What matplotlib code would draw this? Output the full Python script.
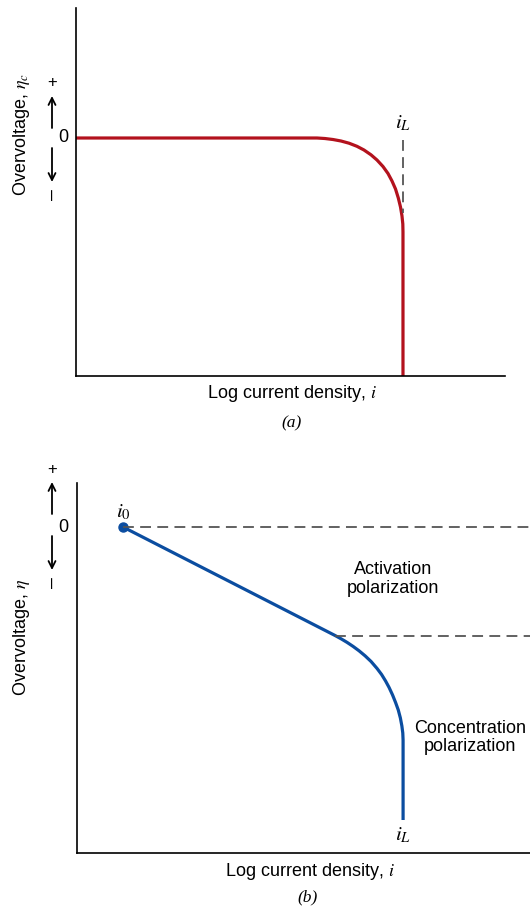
import matplotlib
matplotlib.use("Agg")
import matplotlib.pyplot as plt

plt.rcParams['mathtext.fontset'] = 'stix'
SANS = ['Liberation Sans', 'DejaVu Sans']
SERIF = ['Liberation Serif', 'DejaVu Serif']

# panel (a): concentration polarization only (x = log i, y = overvoltage)
conc_x = [0.0, 5.618, 5.804, 5.991, 6.177, 6.364, 6.550, 6.713, 6.876, 7.016, 7.156,
          7.273, 7.366, 7.448, 7.513, 7.564, 7.599, 7.618, 7.622, 7.622]
conc_y = [0.0, 0.0, -0.013, -0.038, -0.075, -0.13, -0.208, -0.3, -0.42, -0.55, -0.713,
          -0.888, -1.075, -1.275, -1.5, -1.725, -1.95, -2.15, -2.35, -5.95]
iL_a = 7.622
iL_a_dash = [-0.05, -1.88]

# panel (b): activation + concentration polarization
tot_x = [1.072, 6.014, 6.154, 6.294, 6.434, 6.573, 6.713, 6.853, 6.993, 7.098, 7.191,
         7.273, 7.354, 7.424, 7.487, 7.536, 7.571, 7.592, 7.599, 7.599]
tot_y = [0.0, -2.7125, -2.795, -2.885, -2.985, -3.095, -3.22, -3.3625, -3.5375, -3.6875,
         -3.85, -4.0125, -4.2, -4.3875, -4.575, -4.775, -4.975, -5.15, -5.325, -7.325]
i0 = (1.072, 0.0)
act_limit = -2.72

RED = '#b3121d'
BLUE = '#0b4da0'
GRAY = '#555555'

W, H = 530, 907
fig = plt.figure(figsize=(W / 100, H / 100), dpi=100)


def px_axes(l, t, r, b):
    return fig.add_axes([l / W, 1 - b / H, (r - l) / W, (b - t) / H])


def ftxt(x, y, s, **kw):
    fig.text(x / W, 1 - y / H, s, ha='center', va='center', **kw)


def farrow(x, y0, y1):
    fig.add_artist(matplotlib.patches.FancyArrowPatch(
        (x / W, 1 - y0 / H), (x / W, 1 - y1 / H), transform=fig.transFigure,
        arrowstyle='->,head_length=5,head_width=2.5', lw=1.3, color='black',
        shrinkA=0, shrinkB=0))


def style(ax, xmax, ybot, ytop):
    ax.set_xlim(0, xmax)
    ax.set_ylim(ybot, ytop)
    for s in ['top', 'right']:
        ax.spines[s].set_visible(False)
    for s in ['left', 'bottom']:
        ax.spines[s].set_linewidth(1.2)
    ax.set_xticks([])
    ax.set_yticks([])


# ---- (a)
ax1 = px_axes(76, 8, 505, 376)
style(ax1, 10.0, -5.95, 3.25)
ax1.plot(conc_x, conc_y, color=RED, lw=2.3, solid_joinstyle='round', solid_capstyle='butt')
ax1.plot([iL_a, iL_a], iL_a_dash, color=GRAY, lw=1.3, dashes=(6, 3.5))
ax1.text(iL_a, 0.38, r'$i_L$', ha='center', va='center', fontsize=15)

ftxt(22, 135, r'Overvoltage, $\eta_c$', rotation=90, fontsize=13, family=SANS)
ftxt(52, 83, '+', fontsize=12, family=SANS)
farrow(52, 128, 96)
ftxt(63, 138, '0', fontsize=13, family=SANS)
farrow(52, 148, 182)
ftxt(52, 194, '–', rotation=90, fontsize=14, family=SANS)
ftxt(292, 393, r'Log current density, $i$', fontsize=13, family=SANS)
ftxt(292, 423, '(a)', fontsize=12.5, family=SERIF, style='italic')

# ---- (b)
ax2 = px_axes(77, 483, 531, 853)
style(ax2, 10.58, -8.15, 1.1)
ax2.plot(tot_x, tot_y, color=BLUE, lw=2.3, solid_joinstyle='round', solid_capstyle='butt')
ax2.plot([i0[0]], [i0[1]], 'o', color=BLUE, ms=6.5)
ax2.plot([i0[0], 10.58], [0, 0], color=GRAY, lw=1.3, dashes=(6, 3.5))
ax2.plot([tot_x[1], 10.58], [act_limit, act_limit], color=GRAY, lw=1.3, dashes=(6, 3.5))
ax2.text(i0[0], 0.38, r'$i_0$', ha='center', va='center', fontsize=15)
ax2.text(tot_x[-1], -7.7, r'$i_L$', ha='center', va='center', fontsize=15)
ax2.text(7.37, -1.3, 'Activation\npolarization', ha='center', va='center',
         fontsize=13, family=SANS, linespacing=1.1)
ax2.text(9.15, -5.27, 'Concentration\npolarization', ha='center', va='center',
         fontsize=13, family=SANS, linespacing=1.1)

ftxt(22, 637, r'Overvoltage, $\eta$', rotation=90, fontsize=13, family=SANS)
ftxt(52, 470, '+', fontsize=12, family=SANS)
farrow(52, 514, 482)
ftxt(63, 528, '0', fontsize=13, family=SANS)
farrow(52, 536, 570)
ftxt(52, 583, '–', rotation=90, fontsize=14, family=SANS)
ftxt(310, 872, r'Log current density, $i$', fontsize=13, family=SANS)
ftxt(308, 897, '(b)', fontsize=12.5, family=SERIF, style='italic')

fig.savefig('out.png', dpi=100)
